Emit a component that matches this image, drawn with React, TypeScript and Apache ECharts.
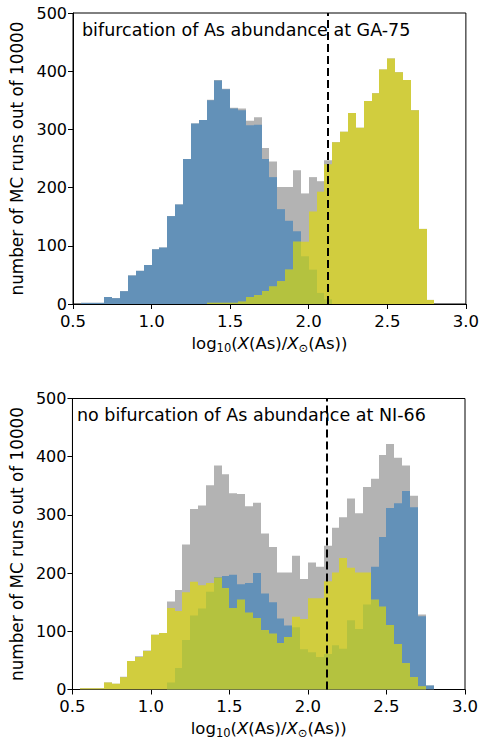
import React, { useEffect, useRef } from "react";
import * as echarts from "echarts";

// Histogram bins (left edges, width 0.05 dex)
const binLeftEdges = [
  0.55, 0.6, 0.65, 0.7, 0.75, 0.8, 0.85, 0.9, 0.95, 1.0, 1.05, 1.1, 1.15, 1.2, 1.25,
  1.3, 1.35, 1.4, 1.45, 1.5, 1.55, 1.6, 1.65, 1.7, 1.75, 1.8, 1.85, 1.9, 1.95, 2.0,
  2.05, 2.1, 2.15, 2.2, 2.25, 2.3, 2.35, 2.4, 2.45, 2.5, 2.55, 2.6, 2.65, 2.7, 2.75,
];
const binWidth = 0.05;

// all MC runs (grey, same in both panels)
const totalRuns = [
  2, 2, 2, 12, 10, 22, 49, 57, 67, 94, 97, 151, 171, 249, 310,
  316, 351, 385, 370, 337, 336, 315, 321, 268, 245, 201, 201, 230, 190, 218,
  211, 247, 278, 296, 328, 303, 348, 362, 403, 422, 398, 385, 333, 129, 7,
];

// GA-75 split
const topBlue = [
  2, 2, 2, 12, 10, 22, 49, 57, 67, 94, 97, 151, 171, 249, 310,
  316, 350, 384, 369, 336, 333, 307, 308, 249, 218, 163, 143, 125, 82, 59,
  19, 8, 0, 0, 0, 0, 0, 0, 0, 0, 0, 0, 0, 0, 0,
];
const topYellow = [
  0, 0, 0, 0, 0, 0, 0, 0, 0, 0, 0, 0, 0, 0, 0,
  0, 2, 2, 2, 2, 4, 12, 15, 22, 30, 39, 59, 107, 107, 159,
  193, 240, 278, 296, 328, 303, 349, 362, 403, 422, 398, 385, 333, 129, 7,
];

// NI-66 split
const bottomBlue = [
  0, 0, 0, 0, 0, 0, 0, 0, 0, 0, 0, 12, 37, 85, 127,
  139, 168, 193, 195, 197, 181, 183, 200, 165, 150, 122, 110, 107, 69, 64,
  56, 61, 76, 70, 119, 104, 146, 211, 262, 312, 320, 341, 313, 126, 7,
];
const bottomYellow = [
  2, 2, 2, 12, 10, 21, 49, 56, 66, 94, 97, 140, 135, 167, 185,
  179, 183, 192, 174, 140, 154, 132, 123, 102, 96, 80, 90, 125, 121, 157,
  157, 186, 201, 226, 209, 201, 201, 154, 142, 111, 78, 45, 21, 5, 0,
];

const solarRef = 2.115;
const panelTexts = [
  "bifurcation of As abundance at GA-75",
  "no bifurcation of As abundance at NI-66",
];
const yLabel = "number of MC runs out of 10000";

const GREY = "#b3b3b3";
const BLUE = "#6391b8";
const YELLOW = "#d1cd3e";
const GREEN = "#b4c23f";
const FONT = "DejaVu Sans";

function hist(values: number[], color: string, gi: number) {
  return {
    type: "custom",
    xAxisIndex: gi,
    yAxisIndex: gi,
    clip: true,
    silent: true,
    encode: { x: 0, y: 1 },
    data: binLeftEdges.map((e, i) => [e, values[i]]),
    renderItem: (params: any, api: any) => {
      const x0 = api.value(0);
      const v = api.value(1);
      if (!(v > 0)) return { type: "group", children: [] };
      const p0 = api.coord([x0, v]);
      const p1 = api.coord([x0 + binWidth, 0]);
      const xa = Math.round(p0[0]);
      const xb = Math.round(p1[0]);
      const yb = p1[1];
      const ya = Math.min(p0[1], yb - 0.8);
      return {
        type: "rect",
        shape: { x: xa, y: ya, width: xb - xa, height: yb - ya },
        style: { fill: color },
      };
    },
  };
}

function xAxis(gi: number) {
  return {
    type: "value",
    gridIndex: gi,
    min: 0.5,
    max: 3.0,
    interval: 0.5,
    splitLine: { show: false },
    axisLine: { show: true, onZero: false, lineStyle: { color: "#000", width: 1 } },
    axisTick: { show: true, inside: false, length: 5, lineStyle: { color: "#000", width: 1 } },
    axisLabel: {
      color: "#000",
      fontSize: 16.5,
      fontFamily: FONT,
      margin: 10,
      lineHeight: 14,
      formatter: (v: number) => v.toFixed(1),
    },
    name: "{n|log}{s|10}{n|(}{i|X}{n|(As)/}{i|X}{s|⊙}{n|(As))}",
    nameLocation: "middle",
    nameGap: 28,
    nameTextStyle: {
      color: "#000",
      fontFamily: FONT,
      fontSize: 16.5,
      rich: {
        n: { fontSize: 16.5, fontFamily: FONT, color: "#000", lineHeight: 22 },
        i: { fontSize: 16.5, fontFamily: FONT, fontStyle: "italic", color: "#000", lineHeight: 22 },
        s: { fontSize: 11.5, fontFamily: FONT, color: "#000", padding: [9, 0, 0, 0], lineHeight: 22 },
      },
    },
  };
}

function yAxis(gi: number) {
  return {
    type: "value",
    gridIndex: gi,
    min: 0,
    max: 500,
    interval: 100,
    splitLine: { show: false },
    axisLine: { show: true, lineStyle: { color: "#000", width: 1 } },
    axisTick: { show: true, inside: false, length: 5, lineStyle: { color: "#000", width: 1 } },
    axisLabel: { color: "#000", fontSize: 16, fontFamily: FONT, margin: 6, lineHeight: 13 },
    name: yLabel,
    nameLocation: "middle",
    nameGap: 46,
    nameTextStyle: { color: "#000", fontSize: 16.8, fontFamily: FONT },
  };
}

function refLine(gi: number) {
  return {
    type: "line",
    xAxisIndex: gi,
    yAxisIndex: gi,
    data: [],
    z: 10,
    markLine: {
      silent: true,
      symbol: "none",
      label: { show: false },
      lineStyle: { color: "#000", width: 2, type: [8, 4] },
      data: [{ xAxis: solarRef }],
    },
  };
}

export default function App() {
  const ref = useRef<HTMLDivElement>(null);
  useEffect(() => {
    if (!ref.current) return;
    const chart = echarts.init(ref.current, undefined, { renderer: "svg" });
    const topOverlap = topBlue.map((b, i) => Math.min(b, topYellow[i]));
    const bottomOverlap = bottomBlue.map((b, i) => Math.min(b, bottomYellow[i]));
    chart.setOption({
      animation: false,
      backgroundColor: "#fff",
      grid: [
        { left: 73, top: 13, width: 395, height: 291, show: true, borderColor: "#000", borderWidth: 1, containLabel: false },
        { left: 70, top: 398.5, width: 395, height: 291, show: true, borderColor: "#000", borderWidth: 1, containLabel: false },
      ],
      xAxis: [xAxis(0), xAxis(1)],
      yAxis: [yAxis(0), yAxis(1)],
      graphic: [
        {
          type: "text",
          left: 82,
          top: 21,
          style: { text: panelTexts[0], fontSize: 17.5, fontFamily: FONT, fill: "#000" },
          z: 20,
        },
        {
          type: "text",
          left: 77,
          top: 406,
          style: { text: panelTexts[1], fontSize: 17.5, fontFamily: FONT, fill: "#000" },
          z: 20,
        },
      ],
      series: [
        hist(totalRuns, GREY, 0),
        hist(topBlue, BLUE, 0),
        hist(topYellow, YELLOW, 0),
        hist(topOverlap, GREEN, 0),
        refLine(0),
        hist(totalRuns, GREY, 1),
        hist(bottomBlue, BLUE, 1),
        hist(bottomYellow, YELLOW, 1),
        hist(bottomOverlap, GREEN, 1),
        refLine(1),
      ],
    });
    return () => chart.dispose();
  }, []);
  return (
    <div
      ref={ref}
      style={{ position: "absolute", left: 0, top: 0, width: 482, height: 740, background: "#fff" }}
    />
  );
}
